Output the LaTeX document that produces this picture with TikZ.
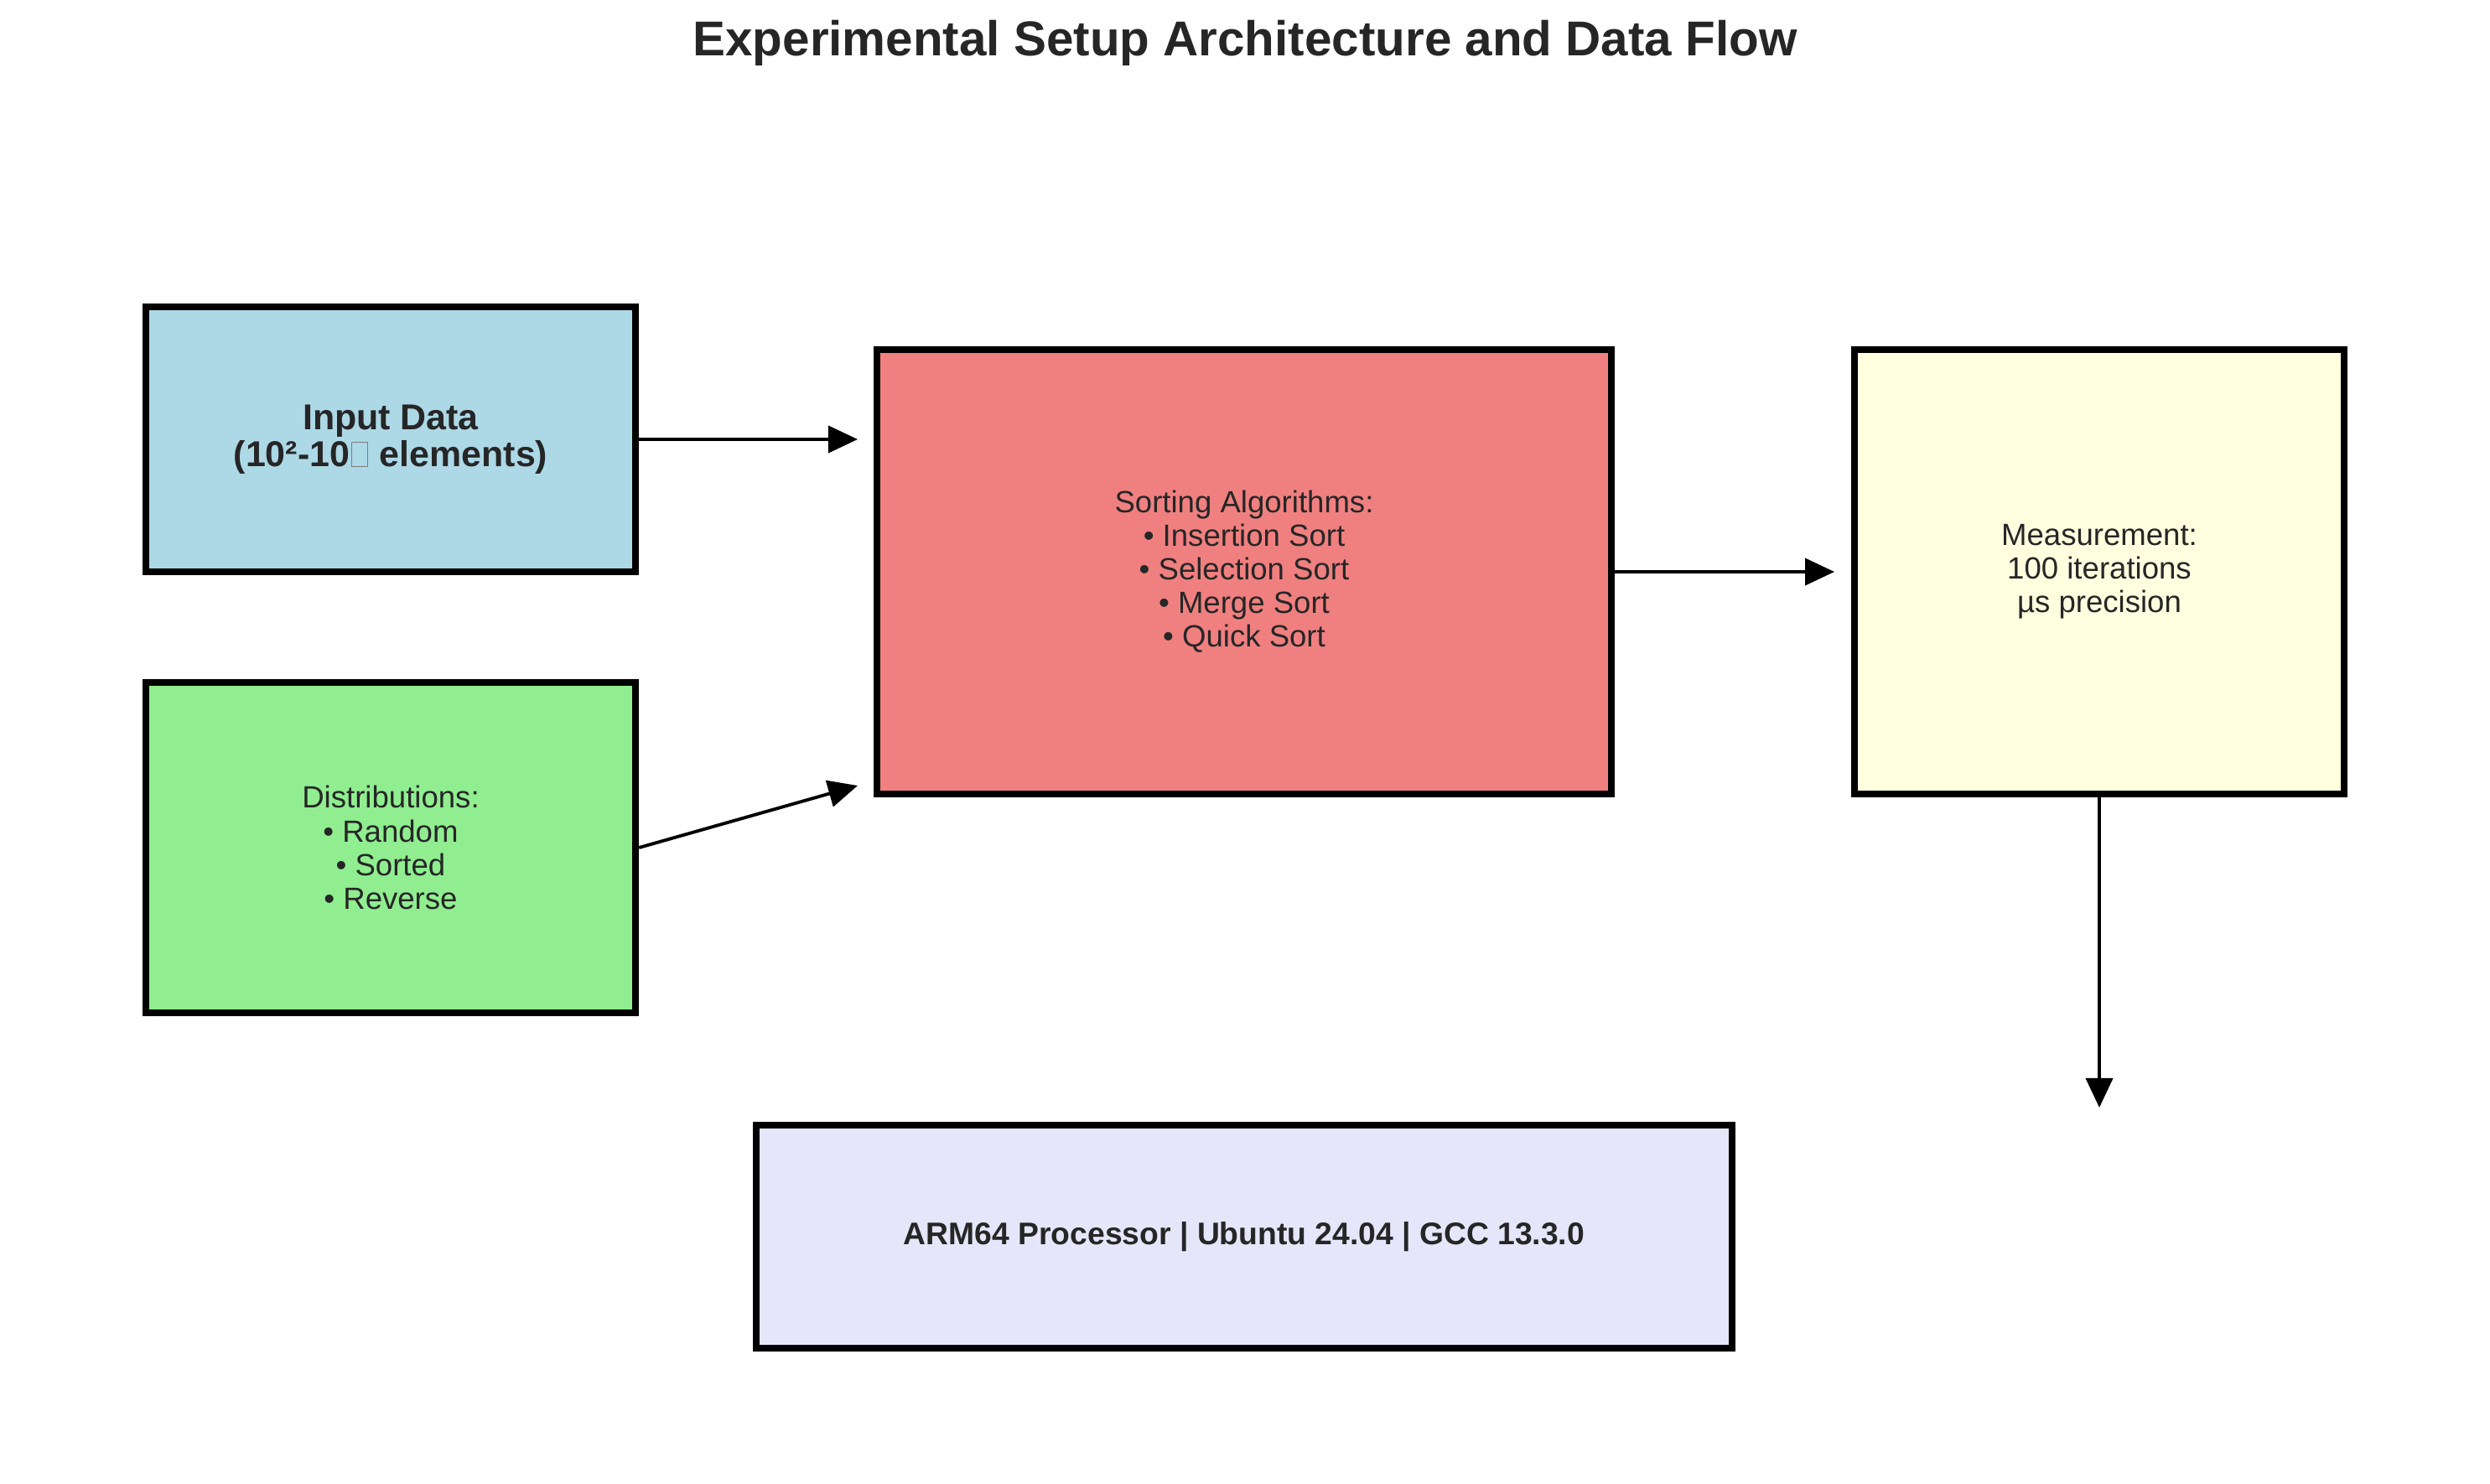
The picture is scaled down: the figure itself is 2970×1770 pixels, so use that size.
\documentclass[tikz,border=0pt]{standalone}
\usepackage{fontspec}
\setmainfont{Liberation Sans}
\usepackage{xcolor}
\usetikzlibrary{arrows.meta}

\definecolor{txt}{HTML}{262626}
\definecolor{inblue}{HTML}{ADD8E6}
\definecolor{distgreen}{HTML}{90EE90}
\definecolor{sortred}{HTML}{F08080}
\definecolor{measyellow}{HTML}{FFFFE0}
\definecolor{hwlavender}{HTML}{E6E6FA}

% missing glyph, printed as an empty box
\newcommand{\tofu}{\kern0.04em{\fboxsep=0pt\fboxrule=0.35pt\color{txt!60}\fbox{\rule{0pt}{0.66em}\hspace{0.42em}}}\kern0.04em}

\begin{document}
\begin{tikzpicture}[
  x=0.01cm, y=-0.01cm,
  >={Triangle[length=0.35cm,width=0.32cm]},
  every node/.style={font=\fontsize{10.4}{11.4}\selectfont, text=txt, align=center},
  block/.style={draw=black, line width=2.3pt, rectangle, inner sep=0pt},
  flow/.style={->, line width=1.1pt}
]
  \useasboundingbox (0,0) rectangle (2970,1770);

  % Title
  \node[font=\fontsize{16.6}{19}\selectfont\bfseries] (title) at (1485,51)
    {Experimental Setup Architecture and Data Flow};

  % Blocks
  \node[block, fill=inblue, minimum width=5.84cm, minimum height=3.16cm,
        font=\fontsize{12.2}{12.4}\selectfont\bfseries] (input) at (466,524)
    {Input Data\\(10²-10\tofu{} elements)};
  \node[block, fill=distgreen, minimum width=5.84cm, minimum height=3.94cm] (dist) at (466,1011)
    {Distributions:\\• Random\\• Sorted\\• Reverse};
  \node[block, fill=sortred, minimum width=8.75cm, minimum height=5.30cm] (sort) at (1484,682)
    {Sorting Algorithms:\\• Insertion Sort\\• Selection Sort\\• Merge Sort\\• Quick Sort};
  \node[block, fill=measyellow, minimum width=5.84cm, minimum height=5.30cm] (meas) at (2504,682)
    {Measurement:\\100 iterations\\µs precision};
  \node[block, fill=hwlavender, minimum width=11.64cm, minimum height=2.65cm,
        font=\fontsize{10.6}{12}\selectfont\bfseries] (hw) at (1484,1475)
    {ARM64 Processor | Ubuntu 24.04 | GCC 13.3.0};

  % Arrow ends (they stop short of the boxes)
  \coordinate (inTip)   at (1023,524);
  \coordinate (distTip) at (1023,937);
  \coordinate (measTip) at (2188,682);
  \coordinate (outTip)  at (2504,1321);

  % Data flow
  \draw[flow] (input.east) -- (inTip);
  \draw[flow] (dist.east) -- (distTip);
  \draw[flow] (sort.east) -- (measTip);
  \draw[flow] (meas.south) -- (outTip);
\end{tikzpicture}
\end{document}
